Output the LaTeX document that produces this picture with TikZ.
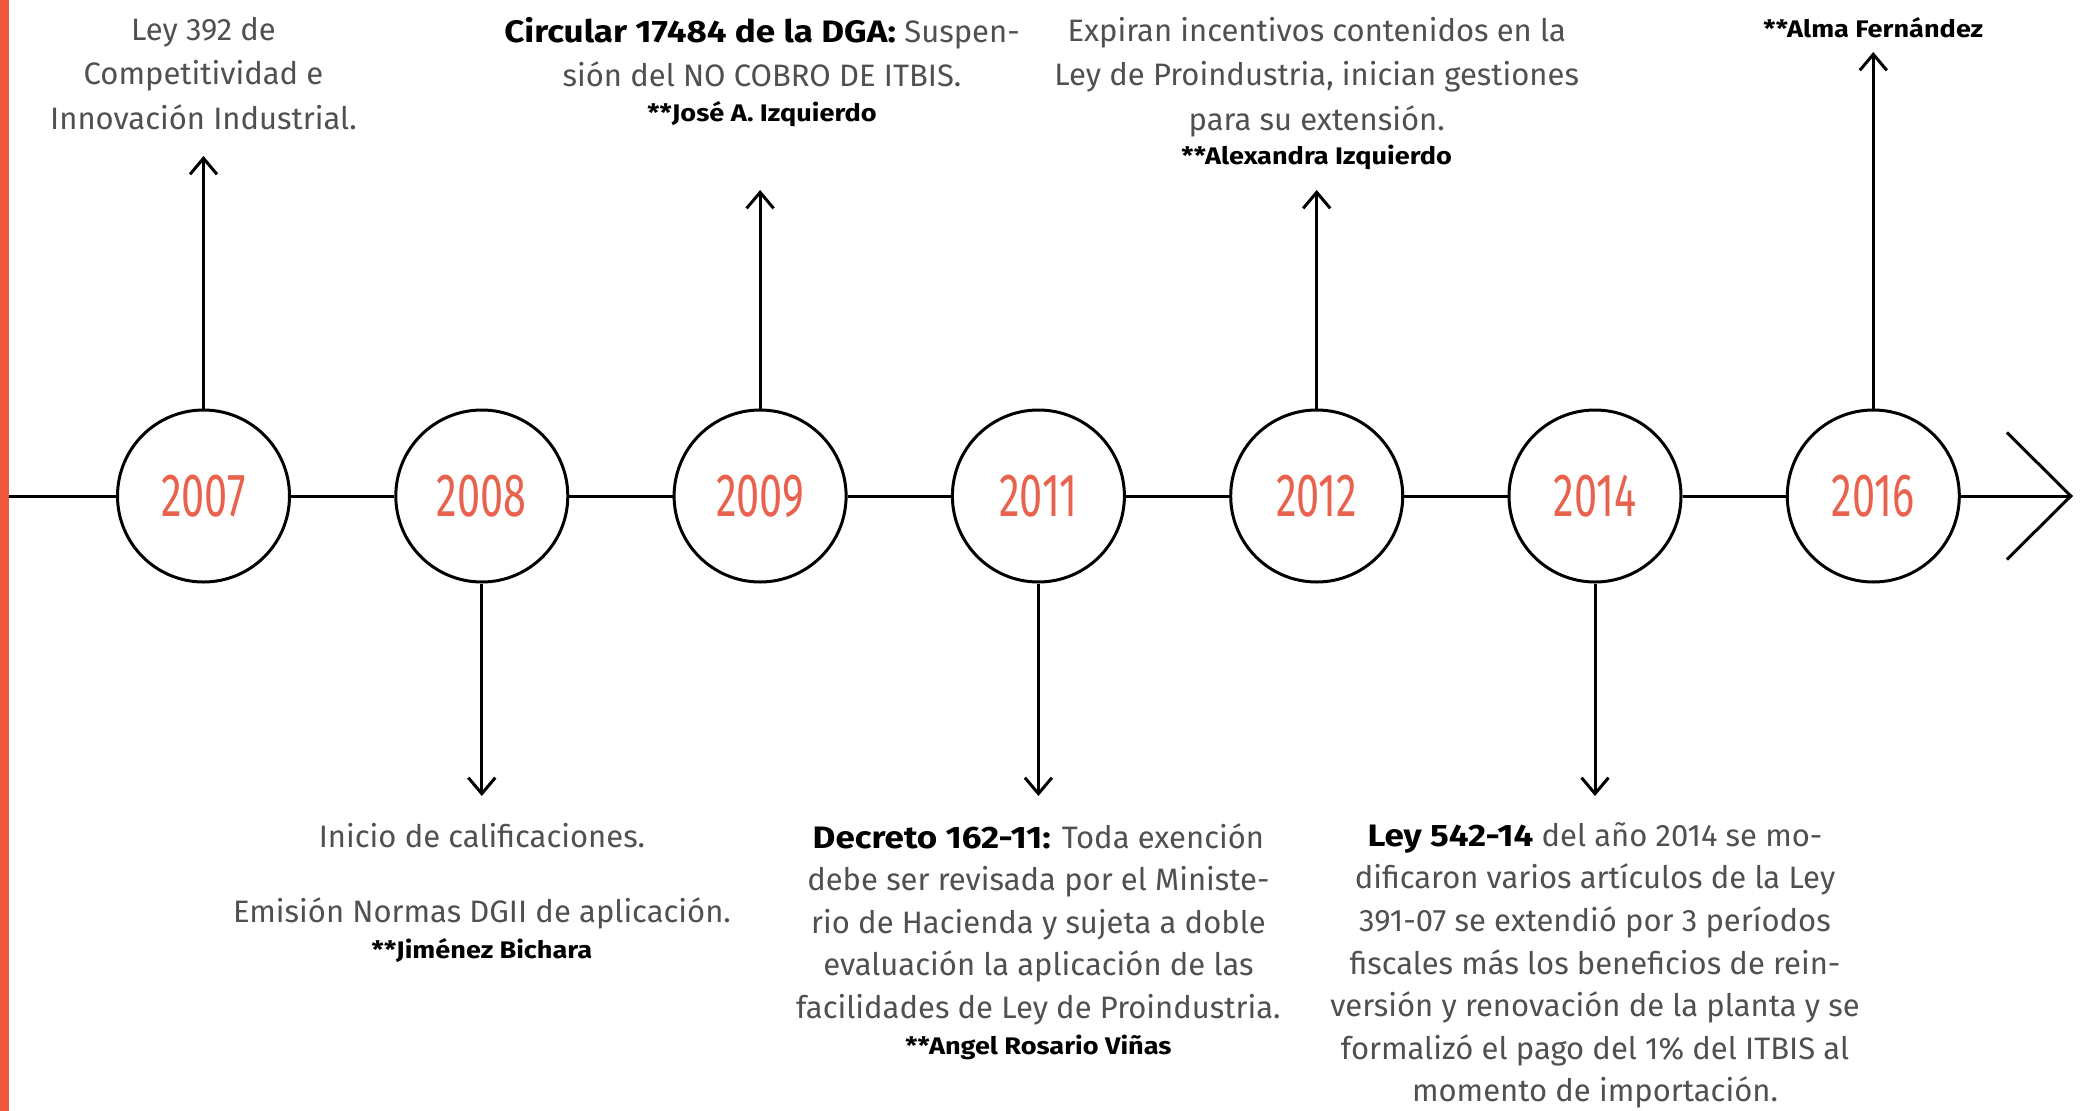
\documentclass[tikz,border=0pt]{standalone}
\usepackage{fontspec}
\setmainfont{Fira Sans}
\newfontfamily\yearfam{Fira Sans}[FakeStretch=0.68]
\newfontfamily\boldfam{Fira Sans Bold}[FakeStretch=1.13]
\usetikzlibrary{arrows.meta}
\definecolor{barorange}{RGB}{238,88,60}
\definecolor{yearorange}{RGB}{232,98,78}
\definecolor{bodygray}{RGB}{80,80,80}
\newcommand{\namefont}{\boldfam\fontsize{24}{43}\selectfont\color{black}}
\newcommand{\bhead}[1]{{\boldfam\color{black}#1}}
\tikzset{
  yearcirc/.style={circle,draw,line width=3pt,minimum size=172pt,inner sep=0pt,
    font=\yearfam\fontsize{61}{61}\selectfont,text=yearorange},
  tline/.style={line width=3pt},
  varrow/.style={line width=3pt,-{Straight Barb[length=16pt,width=27pt]}},
  desc/.style={align=center,inner sep=0pt,text=bodygray,
    font=\fontsize{31}{42.6}\selectfont},
  desctop/.style={desc,font=\fontsize{31}{44.5}\selectfont},
}
\begin{document}
\begin{tikzpicture}[x=1pt,y=-1pt]
\useasboundingbox (0,0) rectangle (2086,1111);
\fill[white] (0,0) rectangle (2086,1111);
\fill[barorange] (0,0) rectangle (9,1111);
% circles
\node[yearcirc] (c2007) at (203.5,496) {2007};
\node[yearcirc] (c2008) at (481.8,496) {2008};
\node[yearcirc] (c2009) at (760.1,496) {2009};
\node[yearcirc] (c2011) at (1038.4,496) {2011};
\node[yearcirc] (c2012) at (1316.7,496) {2012};
\node[yearcirc] (c2014) at (1595.0,496) {2014};
\node[yearcirc] (c2016) at (1873.3,496) {2016};
\coordinate (start) at (9,496);
\coordinate (tip) at (2073,496);
% timeline
\draw[tline] (start) -- (c2007.west);
\draw[tline] (c2007.east) -- (c2008.west);
\draw[tline] (c2008.east) -- (c2009.west);
\draw[tline] (c2009.east) -- (c2011.west);
\draw[tline] (c2011.east) -- (c2012.west);
\draw[tline] (c2012.east) -- (c2014.west);
\draw[tline] (c2014.east) -- (c2016.west);
\draw[line width=3pt,-{Straight Barb[length=64pt,width=127pt]}] (c2016.east) -- (tip);
% vertical arrows
\coordinate (a2007) at (203.5,156);
\coordinate (a2008) at (481.8,796);
\coordinate (a2009) at (760.1,190);
\coordinate (a2011) at (1038.4,796);
\coordinate (a2012) at (1316.7,190);
\coordinate (a2014) at (1595.0,796);
\coordinate (a2016) at (1873.3,52);
\draw[varrow] (c2007.north) -- (a2007);
\draw[varrow] (c2008.south) -- (a2008);
\draw[varrow] (c2009.north) -- (a2009);
\draw[varrow] (c2011.south) -- (a2011);
\draw[varrow] (c2012.north) -- (a2012);
\draw[varrow] (c2014.south) -- (a2014);
\draw[varrow] (c2016.north) -- (a2016);
% texts
\node[desctop,anchor=north] (t2007) at (203.5,17) {Ley 392 de\\Competitividad e\\Innovación Industrial.};
\node[desctop,anchor=north] (t2009) at (762,17) {\bhead{Circular 17484 de la DGA:} Suspen-\\sión del NO COBRO DE ITBIS.\\[-10pt]{\namefont **José A. Izquierdo}};
\node[desctop,anchor=north] (t2012) at (1316.7,17) {Expiran incentivos contenidos en la\\Ley de Proindustria, inician gestiones\\para su extensión.\\[-10pt]{\namefont **Alexandra Izquierdo}};
\node[desctop,anchor=north] (t2016) at (1873.3,17) {{\namefont **Alma Fernández}};
\node[desc,anchor=north] (t2008) at (482,823) {Inicio de calificaciones.\\[33pt]Emisión Normas DGII de aplicación.\\[-7pt]{\namefont **Jiménez Bichara}};
\node[desc,anchor=north] (t2011) at (1038.4,823) {\bhead{Decreto 162-11:} Toda exención\\debe ser revisada por el Ministe-\\rio de Hacienda y sujeta a doble\\evaluación la aplicación de las\\facilidades de Ley de Proindustria.\\[-7pt]{\namefont **Angel Rosario Viñas}};
\node[desc,anchor=north] (t2014) at (1595,822) {\bhead{Ley 542-14} del año 2014 se mo-\\dificaron varios artículos de la Ley\\391-07 se extendió por 3 períodos\\fiscales más los beneficios de rein-\\versión y renovación de la planta y se\\formalizó el pago del 1\% del ITBIS al\\momento de importación.};
\end{tikzpicture}
\end{document}
